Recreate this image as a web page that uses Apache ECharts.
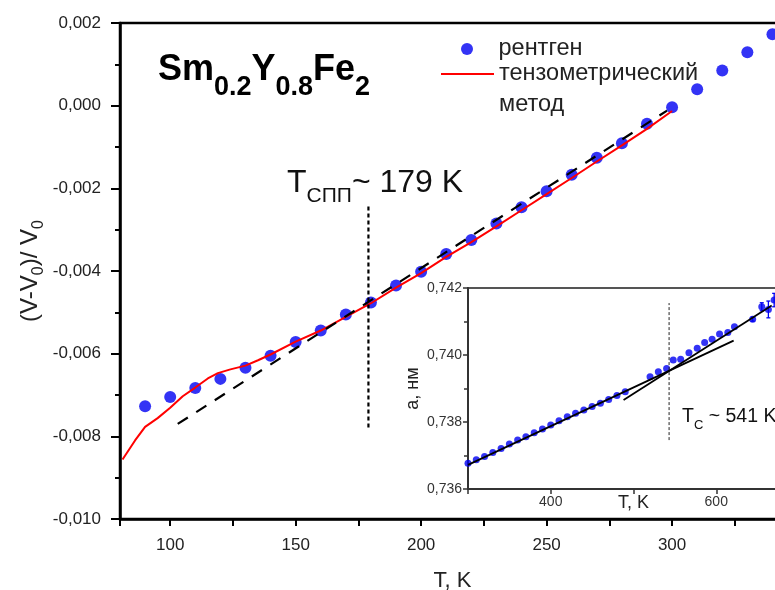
<!DOCTYPE html>
<html><head><meta charset="utf-8">
<script src="https://cdn.jsdelivr.net/npm/echarts@6/dist/echarts.min.js"></script>
<style>html,body{margin:0;padding:0;background:#fff}#c{width:775px;height:590px}</style>
</head><body><div id="c"></div>
<script>
// ---- main chart data ----
const xrayT = [90,100,110,120,130,140,150,160,170,180,190,200,210,220,230,240,250,260,270,280,290,300,310,320,330,340];
const xrayV = [-0.00727,-0.00705,-0.00683,-0.00661,-0.00634,-0.00605,-0.00572,-0.00544,-0.00505,-0.00476,-0.00435,-0.00402,-0.00359,-0.00325,-0.00285,-0.00246,-0.00207,-0.00167,-0.00126,-0.00091,-0.00044,-0.00004,0.00040,0.00085,0.00129,0.00173];
const tensoT = [81,86,90,95,100,105,110,115,119,124,130,135,140,150,160,170,180,190,200,210,220,230,240,250,260,270,280,290,300];
const tensoV = [-0.00856,-0.00810,-0.00777,-0.00756,-0.00731,-0.00703,-0.00682,-0.00660,-0.00647,-0.00638,-0.00629,-0.00616,-0.00602,-0.00571,-0.00544,-0.00511,-0.00478,-0.00440,-0.00405,-0.00366,-0.00330,-0.00292,-0.00253,-0.00214,-0.00175,-0.00135,-0.00096,-0.00056,-0.00013];
const fitT = [103,298];
const fitV = [-0.00770,-0.00012];
const tsprT = [179,179];
const tsprV = [-0.00244,-0.00781];
// ---- inset data ----
const insetT = [300,310,320,330,340,350,360,370,380,390,400,410,420,430,440,450,460,470,480,490,520,530,540,548,557,567,577,586,595,604,614,622,644,655,663,670];
const insetA = [0.73677,0.73687,0.73697,0.73709,0.73721,0.73734,0.73746,0.73756,0.73768,0.73779,0.73791,0.73804,0.73816,0.73826,0.73836,0.73846,0.73856,0.73867,0.73879,0.73890,0.73935,0.73950,0.73960,0.73985,0.73987,0.74007,0.74020,0.74037,0.74047,0.74063,0.74067,0.74084,0.74107,0.74144,0.74136,0.74164];
const lowFitT = [300,621];
const lowFitA = [0.73672,0.74043];
const highFitT = [488,667];
const highFitA = [0.73866,0.74148];
const tcT = [543,543];
const tcA = [0.73746,0.74155];
const errT = [644,655,663,670];
const errA = [0.74107,0.74144,0.74136,0.74164];
const errE = [0.00006,0.00012,0.00025,0.00020];
const insetXLabels = [400,600];

const FONT = '"Liberation Sans", Arial, sans-serif';
const pairs = (a,b) => a.map((v,i)=>[v,b[i]]);
const comma = d => v => { const s = Math.abs(v) < 1e-12 ? (0).toFixed(d) : v.toFixed(d); return s.replace('.', ','); };
const BLUE = '#0000f2';

const chart = echarts.init(document.getElementById('c'), null, {renderer:'canvas'});
chart.setOption({
  animation: false,
  backgroundColor: '#fff',
  grid: [
    {left:120, right:-10, top:23, bottom:71, show:true, borderColor:'#000', borderWidth:2.5, backgroundColor:'transparent', containLabel:false, outerBoundsMode:'none'},
    {left:468, right:-24, top:288, bottom:101, show:true, borderColor:'#555', borderWidth:2, backgroundColor:'#fff', containLabel:false, outerBoundsMode:'none', z:1}
  ],
  xAxis: [
    {type:'value', gridIndex:0, min:80, max:345, minInterval:50, maxInterval:50,
     axisLine:{onZero:false, lineStyle:{color:'#000', width:2.5}},
     axisTick:{inside:false, length:7, lineStyle:{color:'#000', width:2}},
     minorTick:{show:true, splitNumber:2, length:7, lineStyle:{color:'#000', width:2}},
     splitLine:{show:false},
     axisLabel:{showMinLabel:false, showMaxLabel:false, fontSize:17, fontFamily:FONT, color:'#222', margin:18},
     name:'T, K', nameLocation:'middle', nameGap:51, nameMoveOverlap:false, nameTextStyle:{fontSize:22, fontFamily:FONT, color:'#222'}},
    {type:'value', gridIndex:1, min:300, max:700, interval:100,
     axisLine:{onZero:false, lineStyle:{color:'#333', width:2}},
     axisTick:{inside:false, length:5, lineStyle:{color:'#333', width:1.5}},
     splitLine:{show:false},
     axisLabel:{fontSize:14, fontFamily:FONT, color:'#333', margin:6,
       formatter: v => insetXLabels.indexOf(Math.round(v)) >= 0 ? String(Math.round(v)) : ''},
     name:'T, K', nameLocation:'middle', nameGap:5, nameMoveOverlap:false, nameTextStyle:{fontSize:18, fontFamily:FONT, color:'#222'}, z:3}
  ],
  yAxis: [
    {type:'value', gridIndex:0, min:-0.010, max:0.002, interval:0.002,
     axisLine:{onZero:false, lineStyle:{color:'#000', width:2.5}},
     axisTick:{inside:false, length:9, lineStyle:{color:'#000', width:2}},
     minorTick:{show:true, splitNumber:2, length:5, lineStyle:{color:'#000', width:2}},
     splitLine:{show:false},
     axisLabel:{fontSize:17, fontFamily:FONT, color:'#222', margin:19, formatter: comma(3)},
     name:'{m|(V-V}{s|0}{m|)/ V}{s|0}', nameLocation:'middle', nameGap:73, nameRotate:90, nameMoveOverlap:false,
     nameTextStyle:{fontFamily:FONT, color:'#222', rich:{
       m:{fontSize:24, lineHeight:29, verticalAlign:'top', fontFamily:FONT, color:'#222'},
       s:{fontSize:16, lineHeight:18, verticalAlign:'top', padding:[13,0,0,0], fontFamily:FONT, color:'#222'}}}},
    {type:'value', gridIndex:1, min:0.736, max:0.742, interval:0.002,
     axisLine:{onZero:false, lineStyle:{color:'#333', width:2}},
     axisTick:{inside:false, length:5, lineStyle:{color:'#333', width:1.5}},
     minorTick:{show:true, splitNumber:2, length:4, lineStyle:{color:'#333', width:1.5}},
     splitLine:{show:false},
     axisLabel:{fontSize:14, fontFamily:FONT, color:'#333', margin:6, formatter: comma(3)},
     name:'a, нм', nameLocation:'middle', nameGap:46, nameRotate:90, nameMoveOverlap:false,
     nameTextStyle:{fontSize:18, fontFamily:FONT, color:'#222'}, z:3}
  ],
  legend: [
    {data:[{name:'рентген', icon:'circle'}], orient:'vertical', left:461, top:37, padding:0, itemWidth:53, itemHeight:12,
     symbolKeepAspect:true, textStyle:{fontSize:23.5, fontFamily:FONT, color:'#222'}},
    {data:[{name:'тензометрический метод', icon:'rect'}], orient:'vertical', left:441, top:27.5, padding:0, itemWidth:53, itemHeight:2,
     formatter: () => '\nтензометрический\nметод',
     textStyle:{fontSize:23.5, fontFamily:FONT, color:'#222', lineHeight:31}}
  ],
  graphic: [
    {type:'text', left:158, top:52, z:10, style:{
      text:'{b|Sm}{s|0.2}{b|Y}{s|0.8}{b|Fe}{s|2}',
      rich:{
        b:{fontSize:36, fontWeight:'bold', fontFamily:FONT, lineHeight:42, verticalAlign:'top', fill:'#000'},
        s:{fontSize:27, fontWeight:'bold', fontFamily:FONT, lineHeight:30, verticalAlign:'top', padding:[22,0,0,0], fill:'#000'}}}},
    {type:'text', left:287, top:167, z:10, style:{
      text:'{m|T}{s|СПП}{m|~ 179 K}',
      rich:{
        m:{fontSize:32, fontFamily:FONT, lineHeight:38, verticalAlign:'top', fill:'#111'},
        s:{fontSize:21, fontFamily:FONT, lineHeight:24, verticalAlign:'top', padding:[19,0,0,0], fill:'#111'}}}},
    {type:'text', left:682, top:407, z:10, style:{
      text:'{m|T}{s|C}{m| ~ 541 K}',
      rich:{
        m:{fontSize:19.5, fontFamily:FONT, lineHeight:23, verticalAlign:'top', fill:'#111'},
        s:{fontSize:13, fontFamily:FONT, lineHeight:15, verticalAlign:'top', padding:[12,0,0,0], fill:'#111'}}}}
  ],
  series: [
    {name:'рентген', type:'scatter', xAxisIndex:0, yAxisIndex:0, data:pairs(xrayT,xrayV), symbolSize:12,
     itemStyle:{color:BLUE}, z:2},
    {name:'тензометрический метод', type:'line', xAxisIndex:0, yAxisIndex:0, data:pairs(tensoT,tensoV), symbol:'none', showSymbol:false,
     lineStyle:{color:'#ff0000', width:2}, itemStyle:{color:'#ff0000'}, z:3},
    {name:'fit', type:'line', xAxisIndex:0, yAxisIndex:0, data:pairs(fitT,fitV), symbol:'none',
     lineStyle:{color:'#000', width:2.2, type:[12,10]}, z:4},
    {name:'Tspr', type:'line', xAxisIndex:0, yAxisIndex:0, data:pairs(tsprT,tsprV), symbol:'none',
     lineStyle:{color:'#000', width:2.2, type:[4,3]}, z:4},
    {name:'inset', type:'scatter', xAxisIndex:1, yAxisIndex:1, data:pairs(insetT,insetA), symbolSize:7,
     itemStyle:{color:BLUE}, z:5},
    {name:'err', type:'custom', xAxisIndex:1, yAxisIndex:1, data:errT.map((t,i)=>[t,errA[i],errE[i]]), z:5,
     renderItem:(params, api) => {
       const x = api.value(0), y = api.value(1), e = api.value(2);
       const p1 = api.coord([x, y - e]), p2 = api.coord([x, y + e]);
       return {type:'group', children:[
         {type:'line', shape:{x1:p1[0], y1:p1[1], x2:p2[0], y2:p2[1]}, style:{stroke:BLUE, lineWidth:1.3}},
         {type:'line', shape:{x1:p1[0]-2, y1:p1[1], x2:p1[0]+2, y2:p1[1]}, style:{stroke:BLUE, lineWidth:1.3}},
         {type:'line', shape:{x1:p2[0]-2, y1:p2[1], x2:p2[0]+2, y2:p2[1]}, style:{stroke:BLUE, lineWidth:1.3}}
       ]};
     }},
    {name:'lowfit', type:'line', xAxisIndex:1, yAxisIndex:1, data:pairs(lowFitT,lowFitA), symbol:'none',
     lineStyle:{color:'#000', width:1.8}, z:6},
    {name:'highfit', type:'line', xAxisIndex:1, yAxisIndex:1, data:pairs(highFitT,highFitA), symbol:'none',
     lineStyle:{color:'#000', width:1.8}, z:6},
    {name:'Tc', type:'line', xAxisIndex:1, yAxisIndex:1, data:pairs(tcT,tcA), symbol:'none',
     lineStyle:{color:'#222', width:1, type:[3,2]}, z:6}
  ]
});
</script>
</body></html>
